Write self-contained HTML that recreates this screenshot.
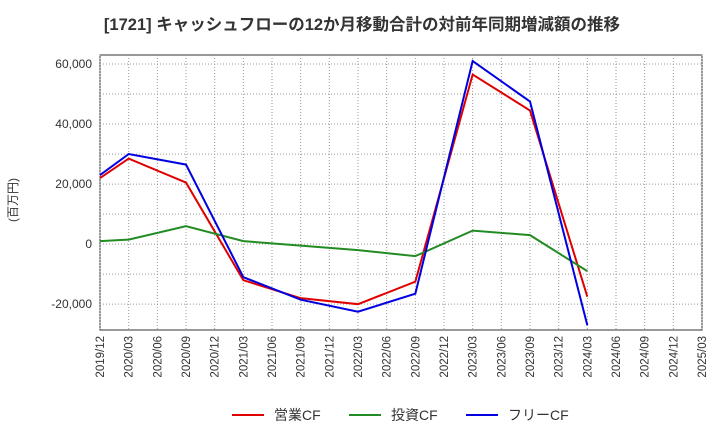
<!DOCTYPE html>
<html><head><meta charset="utf-8"><style>
body{margin:0;background:#fff;font-family:"Liberation Sans","Noto Sans CJK JP",sans-serif;}
</style></head><body>
<svg id="c" width="720" height="440" xmlns="http://www.w3.org/2000/svg">
<text x="362" y="30" text-anchor="middle" font-size="16.5" font-weight="bold" fill="#333" font-family="Liberation Sans,Noto Sans CJK JP,sans-serif">[1721]  キャッシュフローの12か月移動合計の対前年同期増減額の推移</text>
<text transform="translate(17,200) rotate(-90)" text-anchor="middle" font-size="12" fill="#333" font-family="Liberation Sans,Noto Sans CJK JP,sans-serif">(百万円)</text>
<g id="grid"></g><g id="axes"></g><g id="series"></g><g id="legend"></g>
</svg>
<script>
const xLabels=["2019/12","2020/03","2020/06","2020/09","2020/12","2021/03","2021/06","2021/09","2021/12","2022/03","2022/06","2022/09","2022/12","2023/03","2023/06","2023/09","2023/12","2024/03","2024/06","2024/09","2024/12","2025/03"];
const yTicks=[-20000,0,20000,40000,60000];
const pointIdx=[0,1,3,5,7,9,11,13,15,17];
const opCF=[22000,28500,20500,-12000,-18000,-20000,-12500,56500,44500,-17500];
const invCF=[1000,1500,6000,1000,-500,-2000,-4000,4500,3000,-9000];
const freeCF=[23000,30000,26500,-11000,-18500,-22500,-16500,61000,47500,-27000];
const seriesNames=["営業CF","投資CF","フリーCF"];
const ns="http://www.w3.org/2000/svg";
const L=100,R=702,T=55,B=330,yMin=-28600,yMax=63000;
const xs=i=>L+i*(R-L)/(xLabels.length-1);
const ys=v=>B-(v-yMin)/(yMax-yMin)*(B-T);
function mk(p,t,a){const e=document.createElementNS(ns,t);for(const k in a)e.setAttribute(k,a[k]);document.getElementById(p).appendChild(e);return e;}
let r=mk("grid","rect",{x:L,y:T,width:R-L,height:B-T,fill:"none",stroke:"#333"});


xLabels.forEach((l,i)=>{const x=xs(i);
 let g=mk("grid","line",{x1:x,x2:x,y1:T,y2:B,stroke:"#999","stroke-dasharray":"1,2"});
 
 
 let t=mk("axes","text",{transform:`translate(${x+4},${B+6}) rotate(-90)`,"text-anchor":"end","font-size":"11.5",fill:"#333"});
 t.textContent=l;
 
 
});
for(let v=-20000;v<=60000;v+=10000){
 let g=mk("grid","line",{x1:L,x2:R,y1:ys(v),y2:ys(v),stroke:"#999","stroke-dasharray":"1,2"});
 
 
}
yTicks.forEach(v=>{
 let t=mk("axes","text",{x:L-8,y:ys(v)+4,"text-anchor":"end","font-size":"12",fill:"#333"});
 t.textContent=v.toLocaleString("en-US");
 
 
});
const colors=["#e00000","#228b22","#0000e0"];
[opCF,invCF,freeCF].forEach((d,s)=>{
 let p=mk("series","polyline",{points:d.map((v,i)=>xs(pointIdx[i])+","+ys(v)).join(" "),fill:"none",stroke:colors[s],"stroke-width":"2"});
 
 
 const lx=232+s*117;
 let ln=mk("legend","line",{x1:lx,x2:lx+32,y1:415,y2:415,stroke:colors[s],"stroke-width":"2"});
 
 
 let t=mk("legend","text",{x:lx+42,y:420,"font-size":"14",fill:"#333"});
 t.textContent=seriesNames[s];
 
 
});
</script>
</body></html>
